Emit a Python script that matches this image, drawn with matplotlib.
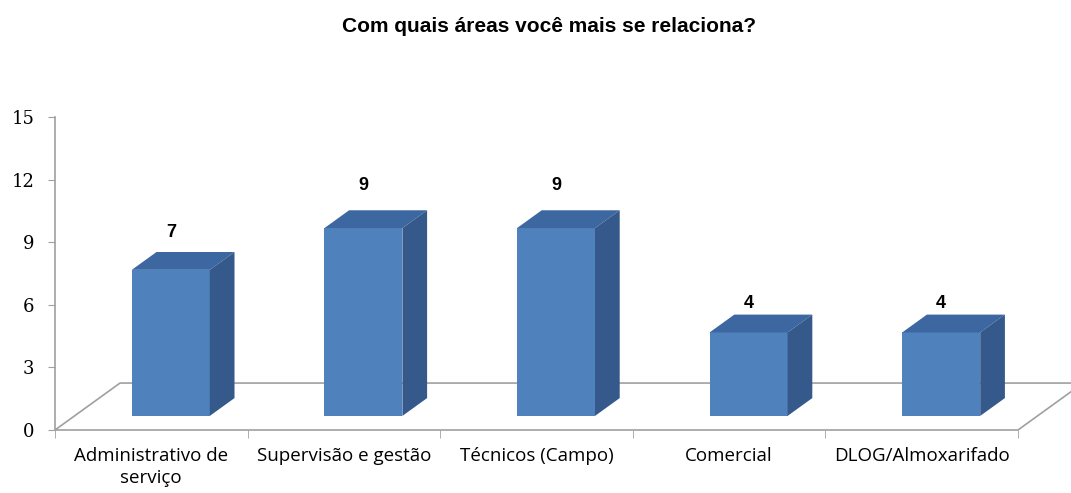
import matplotlib
matplotlib.use("Agg")
import matplotlib.pyplot as plt
from matplotlib.patches import Polygon

categories = ["Administrativo de\nserviço", "Supervisão e gestão", "Técnicos (Campo)",
              "Comercial", "DLOG/Almoxarifado"]
values = [7, 9, 9, 4, 4]
yticks = [0, 3, 6, 9, 12, 15]
title = "Com quais áreas você mais se relaciona?"

# 3d look: depth of the floor in data units, bar placement inside it
DX, DY = 0.3375, 2.25
F0, F1 = 0.30, 0.68
W = 0.405

FRONT = "#4f81bd"
TOP = "#3d67a0"
SIDE = "#34598a"
GRID = "#a0a0a0"

fig = plt.figure(figsize=(10.71, 4.93), dpi=100)
ax = fig.add_axes([55 / 1071, 63 / 493, 963 / 1071, 313 / 493])
ax.set_xlim(0, len(categories))
ax.set_ylim(0, 15)

n = len(categories)
floor = Polygon([(0, 0), (n, 0), (n + DX, DY), (DX, DY)], closed=True,
                facecolor="white", edgecolor=GRID, lw=1.2, clip_on=False, zorder=1)
ax.add_patch(floor)

for i, v in enumerate(values):
    x0 = i + 0.5 - W / 2 + F0 * DX
    x1 = x0 + W
    y0 = F0 * DY
    y1 = y0 + v
    ddx = (F1 - F0) * DX
    ddy = (F1 - F0) * DY
    front = Polygon([(x0, y0), (x1, y0), (x1, y1), (x0, y1)], facecolor=FRONT,
                    edgecolor="none", clip_on=False, zorder=3)
    top = Polygon([(x0, y1), (x1, y1), (x1 + ddx, y1 + ddy), (x0 + ddx, y1 + ddy)],
                  facecolor=TOP, edgecolor="none", clip_on=False, zorder=3)
    side = Polygon([(x1, y0), (x1 + ddx, y0 + ddy), (x1 + ddx, y1 + ddy), (x1, y1)],
                   facecolor=SIDE, edgecolor="none", clip_on=False, zorder=3)
    for p in (front, top, side):
        ax.add_patch(p)
    ax.text((x0 + x1) / 2, 1.13 * v + 1.55, str(v), ha="center", va="center",
            fontsize=13, fontweight="bold", family="Liberation Sans", zorder=5)

for s in ["top", "right", "bottom"]:
    ax.spines[s].set_visible(False)
ax.spines["left"].set_color(GRID)
ax.spines["left"].set_linewidth(1.2)

ax.set_yticks(yticks)
ax.set_yticklabels([str(t) for t in yticks], family="DejaVu Serif", fontsize=13)
ax.tick_params(axis="y", length=5, color=GRID, pad=10)

ax.set_xticks([i + 0.5 for i in range(n)])
ax.set_xticklabels(categories, family="Open Sans", fontsize=13.5, linespacing=1.3)
ax.set_xticks(range(n + 1), minor=True)
ax.tick_params(axis="x", which="major", length=0, pad=12)
ax.tick_params(axis="x", which="minor", length=6, color=GRID)

fig.text(549 / 1071, 1 - 27 / 493, title, ha="center", va="center",
         fontsize=15, fontweight="bold", family="Liberation Sans")

fig.savefig("out.png", dpi=100, facecolor="white")
